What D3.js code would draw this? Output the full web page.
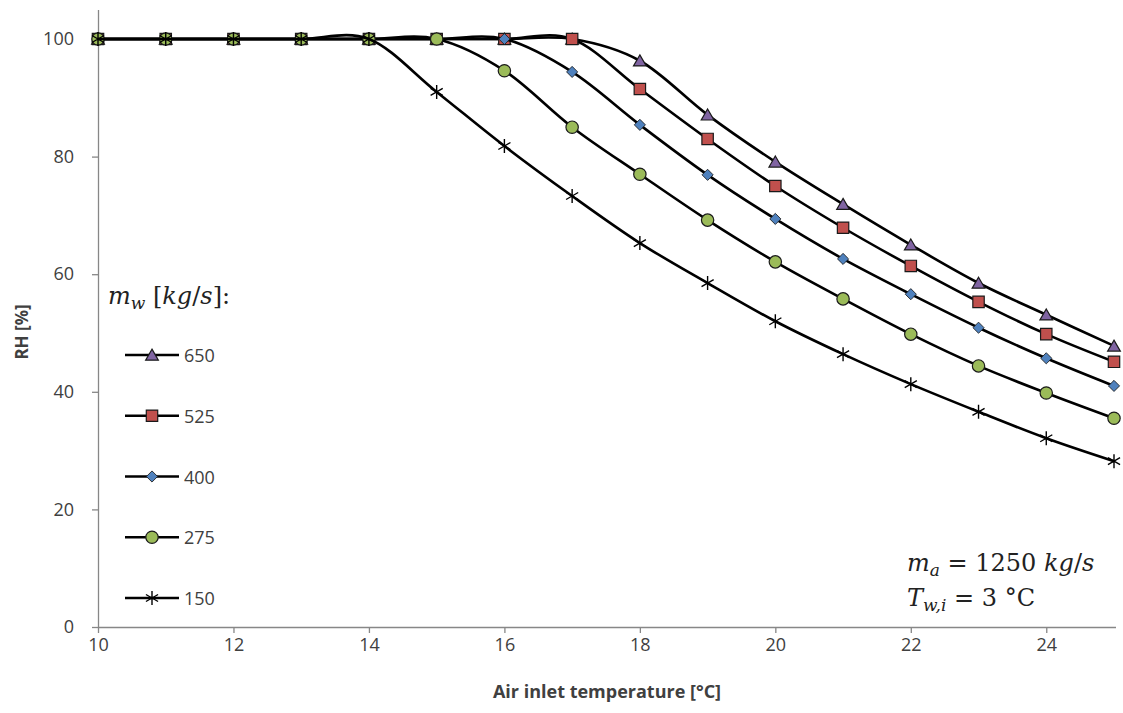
<!DOCTYPE html>
<html>
<head>
<meta charset="utf-8">
<script src="https://cdn.jsdelivr.net/npm/d3@7"></script>
<style>
  body { margin: 0; background: #fff; }
  .axis text { font-family: 'Open Sans', sans-serif; font-size: 18px; fill: #404040; }
  .axis path, .axis line { stroke: #878787; stroke-width: 1.3px; }
  .math { font-family: 'DejaVu Serif', serif; font-size: 24px; fill: #222; }
</style>
</head>
<body>
<div id="chart"></div>
<script>
const temps = [10, 11, 12, 13, 14, 15, 16, 17, 18, 19, 20, 21, 22, 23, 24, 25];
const rh_650 = [100, 100, 100, 100, 100, 100, 100, 100, 96.3, 87.1, 79.1, 71.9, 65.0, 58.5, 53.1, 47.8];
const rh_525 = [100, 100, 100, 100, 100, 100, 100, 100, 91.5, 83.0, 75.0, 67.9, 61.4, 55.3, 49.8, 45.1];
const rh_400 = [100, 100, 100, 100, 100, 100, 100, 94.4, 85.4, 76.9, 69.4, 62.6, 56.6, 50.9, 45.7, 41.0];
const rh_275 = [100, 100, 100, 100, 100, 100, 94.6, 85.0, 77.0, 69.2, 62.1, 55.8, 49.8, 44.4, 39.8, 35.5];
const rh_150 = [100, 100, 100, 100, 100, 91.0, 81.8, 73.3, 65.3, 58.5, 52.0, 46.4, 41.3, 36.6, 32.1, 28.2];
const flows = ['650', '525', '400', '275', '150'];
const x_ticks = [10, 12, 14, 16, 18, 20, 22, 24];
const y_ticks = [0, 20, 40, 60, 80, 100];

const series = [
    { name: '650', values: rh_650, symbol: 'triangle', fill: '#8064A2' },
    { name: '525', values: rh_525, symbol: 'square', fill: '#C0504D' },
    { name: '400', values: rh_400, symbol: 'diamond', fill: '#4F81BD' },
    { name: '275', values: rh_275, symbol: 'circle', fill: '#9BBB59' },
    { name: '150', values: rh_150, symbol: 'star', fill: 'none' },
];

const chart_width = 1123;
const chart_height = 713;

const svg = d3.select('#chart')
    .append('svg')
    .attr('width', chart_width)
    .attr('height', chart_height);

const x_scale = d3.scaleLinear().domain([10, 25]).range([98, 1114]);
const y_scale = d3.scaleLinear().domain([0, 100]).range([627, 39]);

// Axes
svg.append('g')
    .attr('class', 'axis')
    .attr('transform', 'translate(0, 627)')
    .call(d3.axisBottom(x_scale).tickValues(x_ticks).tickSize(6).tickPadding(5).tickSizeOuter(0))
    .call(g => g.select('.domain').attr('d', 'M98,0.5H1116'));

svg.append('g')
    .attr('class', 'axis')
    .attr('transform', 'translate(98, 0)')
    .call(d3.axisLeft(y_scale).tickValues(y_ticks).tickSize(6).tickPadding(18).tickSizeOuter(0))
    .call(g => g.select('.domain').attr('d', 'M0.5,10V627'));

svg.append('text')
    .attr('x', 607).attr('y', 698)
    .attr('text-anchor', 'middle')
    .style('font-family', "'Open Sans', sans-serif")
    .style('font-size', '18px').style('font-weight', 'bold').style('fill', '#404040')
    .text('Air inlet temperature [°C]');

svg.append('text')
    .attr('transform', 'translate(28, 332) rotate(-90)')
    .attr('text-anchor', 'middle')
    .style('font-family', "'Open Sans', sans-serif")
    .style('font-size', '17px').style('font-weight', 'bold').style('fill', '#404040')
    .text('RH [%]');

// Symbols
const sym = {
    triangle: d3.symbol(d3.symbolTriangle, 70),
    square: d3.symbol(d3.symbolSquare, 130),
    diamond: d3.symbol(d3.symbolSquare, 62),
    circle: d3.symbol(d3.symbolCircle, 120),
};

function drawMarker(g, s, cx, cy) {
    if (s.symbol === 'star') {
        const r = 7;
        const p = [];
        for (let k = 0; k < 3; k++) {
            const a = Math.PI / 2 + k * Math.PI / 3;
            p.push(`M${cx + r * Math.cos(a)},${cy - r * Math.sin(a)}L${cx - r * Math.cos(a)},${cy + r * Math.sin(a)}`);
        }
        g.append('path').attr('d', p.join('')).attr('stroke', '#000').attr('stroke-width', 1.4).attr('fill', 'none');
    } else {
        const dy = s.symbol === 'triangle' ? 1.5 : 0;
        const rot = s.symbol === 'diamond' ? ' rotate(45)' : '';
        g.append('path')
            .attr('d', sym[s.symbol]())
            .attr('transform', `translate(${cx}, ${cy + dy})${rot}`)
            .attr('fill', s.fill)
            .attr('stroke', '#1a1a1a')
            .attr('stroke-width', s.symbol === 'diamond' ? 0.8 : 1.2);
    }
}

const line = d3.line()
    .x(d => x_scale(d[0]))
    .y(d => y_scale(d[1]))
    .curve(d3.curveCatmullRom.alpha(0));

// Series
series.forEach(s => {
    const pts = temps.map((t, i) => [t, s.values[i]]);
    const g = svg.append('g');
    g.append('path')
        .datum(pts)
        .attr('d', line)
        .attr('fill', 'none')
        .attr('stroke', '#000')
        .attr('stroke-width', 2.6);
    pts.forEach(d => drawMarker(g, s, x_scale(d[0]), y_scale(d[1])));
});

// Legend
const legend = svg.append('g');
const leg_title = legend.append('text').attr('class', 'math').attr('x', 108).attr('y', 304);
leg_title.append('tspan').style('font-style', 'italic').text('m');
leg_title.append('tspan').style('font-style', 'italic').style('font-size', '17px').attr('dy', 5).text('w');
leg_title.append('tspan').attr('dy', -5).text(' [');
leg_title.append('tspan').style('font-style', 'italic').text('kg');
leg_title.append('tspan').text('/');
leg_title.append('tspan').style('font-style', 'italic').text('s');
leg_title.append('tspan').text(']:');

const leg_y = d3.scalePoint().domain(flows).range([355, 598]);
series.forEach(s => {
    const y = leg_y(s.name);
    legend.append('line')
        .attr('x1', 125).attr('x2', 179).attr('y1', y).attr('y2', y)
        .attr('stroke', '#000').attr('stroke-width', 2.6);
    drawMarker(legend, s, 152, y);
    legend.append('text')
        .attr('x', 184).attr('y', y + 7)
        .style('font-family', "'Open Sans', sans-serif")
        .style('font-size', '18px').style('fill', '#404040')
        .text(s.name);
});

// Annotation
const a1 = svg.append('text').attr('class', 'math').attr('x', 907).attr('y', 571);
a1.append('tspan').style('font-style', 'italic').text('m');
a1.append('tspan').style('font-style', 'italic').style('font-size', '17px').attr('dy', 5).text('a');
a1.append('tspan').attr('dy', -5).text(' = 1250 ');
a1.append('tspan').style('font-style', 'italic').text('kg');
a1.append('tspan').text('/');
a1.append('tspan').style('font-style', 'italic').text('s');

const a2 = svg.append('text').attr('class', 'math').attr('x', 907).attr('y', 606);
a2.append('tspan').style('font-style', 'italic').text('T');
a2.append('tspan').style('font-style', 'italic').style('font-size', '17px').attr('dy', 5).text('w,i');
a2.append('tspan').attr('dy', -5).text(' = 3 °C');
</script>
</body>
</html>
